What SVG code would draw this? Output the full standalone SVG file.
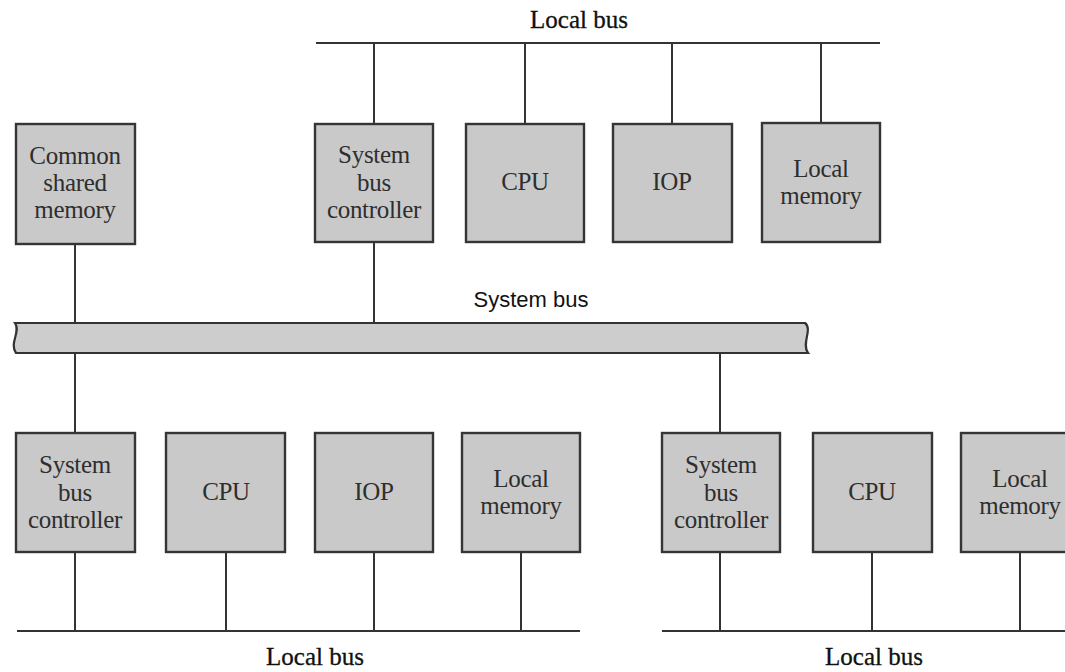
<svg xmlns="http://www.w3.org/2000/svg" width="1065" height="672" viewBox="0 0 1065 672">
  <style>
    .box { fill: #c9c9c9; stroke: #353535; stroke-width: 2.4; }
    .wire { stroke: #333; stroke-width: 2; fill: none; }
    .lbl { font-family: "Liberation Serif", "Times New Roman", serif; font-size: 25px; fill: #2e2e2e; text-anchor: middle; letter-spacing: -0.3px; }
    .bus-lbl { font-family: "Liberation Serif", "Times New Roman", serif; font-size: 25px; fill: #111; text-anchor: middle; stroke: #111; stroke-width: 0.3; }
    .sys-lbl { font-family: "Liberation Sans", Arial, sans-serif; font-size: 22px; fill: #111; text-anchor: middle; }
    .sysbus { fill: #cdcdcd; stroke: #333; stroke-width: 2.2; }
  </style>
  <rect width="1065" height="672" fill="#ffffff"/>

  <!-- Connectors and bus lines -->
  <g id="connectors">
    <!-- top local bus -->
    <line class="wire" x1="316" y1="43" x2="880" y2="43"/>
    <line class="wire" x1="374" y1="43" x2="374" y2="124"/>
    <line class="wire" x1="525" y1="43" x2="525" y2="124"/>
    <line class="wire" x1="672" y1="43" x2="672" y2="124"/>
    <line class="wire" x1="821" y1="43" x2="821" y2="124"/>
    <!-- to system bus -->
    <line class="wire" x1="75" y1="244" x2="75" y2="323"/>
    <line class="wire" x1="374" y1="242" x2="374" y2="323"/>
    <line class="wire" x1="75" y1="353" x2="75" y2="433"/>
    <line class="wire" x1="720" y1="353" x2="720" y2="433"/>
    <!-- bottom-left local bus -->
    <line class="wire" x1="17" y1="631" x2="580" y2="631"/>
    <line class="wire" x1="75" y1="552" x2="75" y2="631"/>
    <line class="wire" x1="226" y1="552" x2="226" y2="631"/>
    <line class="wire" x1="374" y1="552" x2="374" y2="631"/>
    <line class="wire" x1="521" y1="552" x2="521" y2="631"/>
    <!-- bottom-right local bus -->
    <line class="wire" x1="662" y1="631" x2="1065" y2="631"/>
    <line class="wire" x1="720" y1="552" x2="720" y2="631"/>
    <line class="wire" x1="872" y1="552" x2="872" y2="631"/>
    <line class="wire" x1="1020" y1="552" x2="1020" y2="631"/>
  </g>

  <!-- System bus -->
  <g id="system-bus">
    <path class="sysbus" d="M15,323 L805,323 C813,329 801,344 808,353 L16,353 C9,343 21,332 15,323 Z"/>
    <text class="sys-lbl" x="531" y="307">System bus</text>
  </g>

  <g id="bus-labels">
    <text class="bus-lbl" x="579" y="28">Local bus</text>
    <text class="bus-lbl" x="315" y="665">Local bus</text>
    <text class="bus-lbl" x="874" y="665">Local bus</text>
  </g>

  <!-- Top row -->
  <g id="common-shared-memory">
    <rect class="box" x="16" y="124" width="119" height="120"/>
    <text class="lbl" x="75" y="164">Common</text>
    <text class="lbl" x="75" y="191">shared</text>
    <text class="lbl" x="75" y="218">memory</text>
  </g>
  <g id="top-sbc">
    <rect class="box" x="315" y="124" width="118" height="118"/>
    <text class="lbl" x="374" y="163">System</text>
    <text class="lbl" x="374" y="191">bus</text>
    <text class="lbl" x="374" y="218">controller</text>
  </g>
  <g id="top-cpu">
    <rect class="box" x="466" y="124" width="118" height="118"/>
    <text class="lbl" x="525" y="190">CPU</text>
  </g>
  <g id="top-iop">
    <rect class="box" x="613" y="124" width="119" height="118"/>
    <text class="lbl" x="672" y="190">IOP</text>
  </g>
  <g id="top-local-memory">
    <rect class="box" x="762" y="123" width="118" height="119"/>
    <text class="lbl" x="821" y="177">Local</text>
    <text class="lbl" x="821" y="204">memory</text>
  </g>

  <!-- Bottom-left row -->
  <g id="bl-sbc">
    <rect class="box" x="16" y="433" width="119" height="119"/>
    <text class="lbl" x="75" y="473">System</text>
    <text class="lbl" x="75" y="501">bus</text>
    <text class="lbl" x="75" y="528">controller</text>
  </g>
  <g id="bl-cpu">
    <rect class="box" x="166" y="433" width="119" height="119"/>
    <text class="lbl" x="226" y="500">CPU</text>
  </g>
  <g id="bl-iop">
    <rect class="box" x="315" y="433" width="118" height="119"/>
    <text class="lbl" x="374" y="500">IOP</text>
  </g>
  <g id="bl-local-memory">
    <rect class="box" x="462" y="433" width="118" height="119"/>
    <text class="lbl" x="521" y="487">Local</text>
    <text class="lbl" x="521" y="514">memory</text>
  </g>

  <!-- Bottom-right row -->
  <g id="br-sbc">
    <rect class="box" x="662" y="433" width="118" height="119"/>
    <text class="lbl" x="721" y="473">System</text>
    <text class="lbl" x="721" y="501">bus</text>
    <text class="lbl" x="721" y="528">controller</text>
  </g>
  <g id="br-cpu">
    <rect class="box" x="813" y="433" width="119" height="119"/>
    <text class="lbl" x="872" y="500">CPU</text>
  </g>
  <g id="br-local-memory">
    <rect class="box" x="961" y="433" width="110" height="119"/>
    <text class="lbl" x="1020" y="487">Local</text>
    <text class="lbl" x="1020" y="514">memory</text>
  </g>
</svg>
